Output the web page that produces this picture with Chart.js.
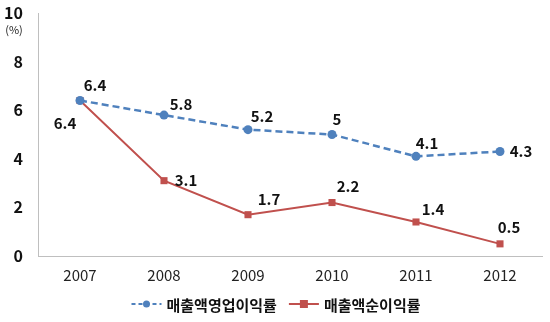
<!DOCTYPE html>
<html>
<head>
<meta charset="utf-8">
<script src="https://cdn.jsdelivr.net/npm/chart.js@4/dist/chart.umd.min.js"></script>
<style>
  html, body { margin: 0; padding: 0; background: #fff; }
  #wrap { width: 550px; height: 322px; position: relative; }
</style>
</head>
<body>
<div id="wrap"><canvas id="c" width="550" height="322"></canvas></div>
<script>
// Years on the x axis
const years = ['2007', '2008', '2009', '2010', '2011', '2012'];
// Operating profit margin (%)
const operatingMargin = [6.4, 5.8, 5.2, 5, 4.1, 4.3];
// Net profit margin (%)
const netMargin = [6.4, 3.1, 1.7, 2.2, 1.4, 0.5];
// Series names
const seriesNames = ['매출액영업이익률', '매출액순이익률'];
// Y axis tick values
const yTicks = [0, 2, 4, 6, 8, 10];

// Label offsets from each point (px)
const opLabelOffsets = [[15, -15], [17, -11], [14, -13], [5, -15], [11, -13], [21, 0]];
const netLabelOffsets = [[-15, 23], [22, 0], [21, -15], [16, -16], [17, -13], [9, -17]];

const BLUE = '#4F81BD';
const RED = '#C0504D';
const FONT = '"Noto Sans CJK KR", "Open Sans", sans-serif';

const valueLabels = {
  id: 'valueLabels',
  afterDatasetsDraw(chart) {
    const ctx = chart.ctx;
    ctx.save();
    ctx.font = 'bold 15px ' + FONT;
    ctx.fillStyle = '#111';
    ctx.textAlign = 'center';
    ctx.textBaseline = 'middle';
    const offs = [opLabelOffsets, netLabelOffsets];
    chart.data.datasets.forEach((ds, di) => {
      const meta = chart.getDatasetMeta(di);
      meta.data.forEach((pt, i) => {
        const o = offs[di][i];
        ctx.fillText(String(ds.data[i]), pt.x + o[0], pt.y + o[1]);
      });
    });
    ctx.restore();
  }
};

const unitAndLegend = {
  id: 'unitAndLegend',
  afterDraw(chart) {
    const ctx = chart.ctx;
    ctx.save();
    // unit under the top tick
    ctx.font = '11px ' + FONT;
    ctx.fillStyle = '#222';
    ctx.textAlign = 'center';
    ctx.textBaseline = 'middle';
    ctx.fillText('(%)', 14, 30);

    // legend at the bottom
    const y = 304;
    ctx.font = 'bold 15px ' + FONT;
    ctx.textAlign = 'left';
    const items = [
      { color: BLUE, dash: [4, 3], shape: 'circle', name: seriesNames[0] },
      { color: RED, dash: [], shape: 'rect', name: seriesNames[1] }
    ];
    const sym = 30, gap = 5, between = 12;
    const widths = items.map(it => sym + gap + ctx.measureText(it.name).width);
    const total = widths[0] + widths[1] + between;
    let x = (chart.width - total) / 2 + 1;
    items.forEach((it, k) => {
      ctx.strokeStyle = it.color;
      ctx.lineWidth = 2;
      ctx.setLineDash(it.dash);
      ctx.beginPath();
      ctx.moveTo(x, y);
      ctx.lineTo(x + sym, y);
      ctx.stroke();
      ctx.setLineDash([]);
      ctx.fillStyle = it.color;
      if (it.shape === 'circle') {
        ctx.beginPath();
        ctx.arc(x + sym / 2, y, 3.5, 0, Math.PI * 2);
        ctx.fill();
      } else {
        ctx.fillRect(x + sym / 2 - 4, y - 4, 8, 8);
      }
      ctx.fillStyle = '#111';
      ctx.fillText(it.name, x + sym + gap, y + 1);
      x += widths[k] + between;
    });
    ctx.restore();
  }
};

new Chart(document.getElementById('c'), {
  type: 'line',
  data: {
    labels: years,
    datasets: [
      {
        label: seriesNames[0],
        data: operatingMargin,
        borderColor: BLUE,
        backgroundColor: BLUE,
        borderWidth: 2.5,
        borderDash: [7, 4],
        pointStyle: 'circle',
        pointRadius: 4.5,
        pointBorderWidth: 0,
        tension: 0
      },
      {
        label: seriesNames[1],
        data: netMargin,
        borderColor: RED,
        backgroundColor: RED,
        borderWidth: 2,
        pointStyle: 'rect',
        pointRadius: 5,
        pointBorderWidth: 0,
        tension: 0
      }
    ]
  },
  options: {
    responsive: false,
    animation: false,
    devicePixelRatio: 1,
    layout: { padding: { top: 13, right: 8, left: 0, bottom: 0 } },
    plugins: {
      legend: { display: false },
      tooltip: { enabled: false }
    },
    scales: {
      x: {
        offset: true,
        grid: { display: false, drawTicks: false },
        border: { display: true, color: '#bfbfbf', width: 1 },
        ticks: {
          padding: 10,
          color: '#222',
          font: { family: FONT, size: 15 }
        },
        afterFit(scale) {
          scale.height = 66;
          scale.paddingLeft = 0;
          scale.paddingRight = 0;
        }
      },
      y: {
        min: 0,
        max: 10,
        afterBuildTicks(scale) { scale.ticks = yTicks.map(v => ({ value: v })); },
        grid: { display: false, drawTicks: false },
        border: { display: true, color: '#bfbfbf', width: 1 },
        ticks: {
          padding: 15,
          color: '#111',
          font: { family: FONT, size: 16, weight: 'bold' }
        },
        afterFit(scale) {
          scale.width = 38;
          scale.paddingTop = 0;
          scale.paddingBottom = 0;
        }
      }
    }
  },
  plugins: [valueLabels, unitAndLegend]
});
</script>
</body>
</html>
